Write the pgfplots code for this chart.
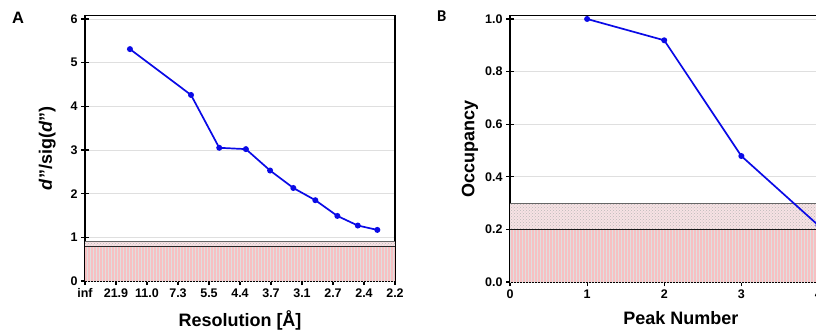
\documentclass[border=0pt]{standalone}
\usepackage{pgfplots}
\pgfplotsset{compat=1.18}
\usepackage{fontspec}
\setmainfont{Liberation Sans}
\newfontfamily\calib{Carlito}
\usetikzlibrary{patterns}
\definecolor{bandred}{RGB}{247,192,194}
\definecolor{bandlight}{RGB}{247,226,228}
\definecolor{lineblue}{RGB}{10,10,230}
\pgfplotsset{
  common/.style={
    scale only axis,
    axis line style={black, line width=1.1pt},
    tick style={black, line width=1.1pt},
    major tick length=8pt,
    tick align=center,
    xtick pos=bottom, ytick pos=left,
    ymajorgrids,
    grid style={gray!25, line width=0.7pt},
    tick label style={font=\fontsize{12.5}{13}\selectfont\bfseries},
    label style={font=\fontsize{18}{20}\selectfont\bfseries},
    /pgf/number format/assume math mode=true,
    clip=true,
  }
}
\begin{document}
\begin{tikzpicture}
\useasboundingbox (0pt,0pt) rectangle (816pt,332pt);
\clip (0pt,0pt) rectangle (816pt,332pt);
% Panel A
\begin{axis}[common,
  at={(85pt,51pt)}, anchor=south west,
  width=310pt, height=265.3pt,
  xmin=0, xmax=10, ymin=0, ymax=6.075,
  xtick={0,1,...,10},
  xticklabels={inf,21.9,11.0,7.3,5.5,4.4,3.7,3.1,2.7,2.4,2.2},
  ytick={0,1,...,6},
  xlabel={Resolution [Å]},
  ylabel={\textit{d}"/sig(\textit{d}")},
  xlabel style={yshift=-6pt},
  ylabel style={yshift=8pt},
]
\addplot[draw=none, fill=bandred] coordinates {(0,0) (10,0) (10,0.8) (0,0.8)} -- cycle;
\addplot[draw=none, pattern=vertical lines, pattern color=gray!25] coordinates {(0,0) (10,0) (10,0.8) (0,0.8)} -- cycle;
\addplot[draw=none, fill=bandlight] coordinates {(0,0.8) (10,0.8) (10,0.9) (0,0.9)} -- cycle;
\addplot[draw=none, pattern=crosshatch dots, pattern color=gray!55] coordinates {(0,0.8) (10,0.8) (10,0.9) (0,0.9)} -- cycle;
\addplot[black!85, line width=0.8pt] coordinates {(0,0.8) (10,0.8)};
\addplot[black!60, line width=0.6pt] coordinates {(0,0.9) (10,0.9)};
\addplot[lineblue, line width=1.7pt, mark=*, mark size=2.1pt, mark options={fill=lineblue, draw=lineblue}]
  coordinates {(1.45,5.31) (3.42,4.26) (4.33,3.05) (5.19,3.02) (5.97,2.53) (6.72,2.13) (7.43,1.85) (8.14,1.49) (8.80,1.27) (9.43,1.17)};
\end{axis}
\node[anchor=north west, inner sep=0pt, font=\fontsize{16.5}{17}\selectfont\bfseries] at (12pt,320pt) {A};
% Panel B
\begin{axis}[common,
  at={(510pt,50pt)}, anchor=south west,
  width=341.6pt, height=266.3pt,
  xmin=0, xmax=4.43, ymin=0, ymax=1.0125,
  xtick={0,1,...,4},
  ytick={0,0.2,...,1.0},
  yticklabel style={/pgf/number format/.cd, fixed, fixed zerofill, precision=1},
  xlabel={Peak Number},
  ylabel={Occupancy},
  xlabel style={yshift=-6pt},
  ylabel style={yshift=0pt},
]
\addplot[draw=none, fill=bandred] coordinates {(0,0) (4.43,0) (4.43,0.2) (0,0.2)} -- cycle;
\addplot[draw=none, pattern=vertical lines, pattern color=gray!25] coordinates {(0,0) (4.43,0) (4.43,0.2) (0,0.2)} -- cycle;
\addplot[draw=none, fill=bandlight] coordinates {(0,0.2) (4.43,0.2) (4.43,0.3) (0,0.3)} -- cycle;
\addplot[draw=none, pattern=crosshatch dots, pattern color=gray!55] coordinates {(0,0.2) (4.43,0.2) (4.43,0.3) (0,0.3)} -- cycle;
\addplot[black!90, line width=0.8pt] coordinates {(0,0.2) (4.43,0.2)};
\addplot[black!60, line width=0.6pt] coordinates {(0,0.3) (4.43,0.3)};
\addplot[lineblue, line width=1.7pt, mark=*, mark size=2.1pt, mark options={fill=lineblue, draw=lineblue}]
  coordinates {(1,1.0) (2,0.919) (3,0.479) (4,0.215)};
\end{axis}
\node[anchor=north west, inner sep=0pt, font=\fontsize{16.5}{17}\selectfont\calib\bfseries] at (437pt,321pt) {B};
\end{tikzpicture}
\end{document}
